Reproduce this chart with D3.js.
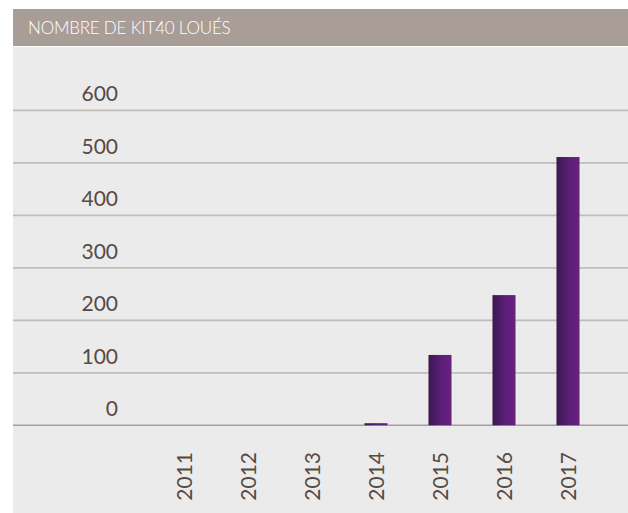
<!DOCTYPE html>
<html>
<head>
<meta charset="utf-8">
<script src="https://cdn.jsdelivr.net/npm/d3@7"></script>
<style>
  body { margin: 0; background: #fff; }
  svg text { font-family: "Lato", "Open Sans", sans-serif; }
</style>
</head>
<body>
<div id="graphique"></div>
<script>
// Données du graphique
const annees = ["2011", "2012", "2013", "2014", "2015", "2016", "2017"];
const kitsLoues = [0, 0, 0, 4, 134, 248, 511];
const graduations = [0, 100, 200, 300, 400, 500, 600];
const titre = "NOMBRE DE KIT40 LOUÉS";

const largeur = 628;
const hauteur = 513;

const svg = d3.select("#graphique")
  .append("svg")
  .attr("width", largeur)
  .attr("height", hauteur);

// Dégradé des barres (sombre à gauche, plus clair à droite)
const grad = svg.append("defs").append("linearGradient")
  .attr("id", "degradeBarre")
  .attr("x1", "0%").attr("x2", "100%");
grad.append("stop").attr("offset", "0%").attr("stop-color", "#3b1850");
grad.append("stop").attr("offset", "55%").attr("stop-color", "#5c1f78");
grad.append("stop").attr("offset", "100%").attr("stop-color", "#68217f");

// Fond du panneau
svg.append("rect")
  .attr("x", 13).attr("y", 47)
  .attr("width", largeur - 13).attr("height", hauteur - 47)
  .attr("fill", "#ebebeb");

// Bandeau de titre
svg.append("rect")
  .attr("x", 13).attr("y", 9)
  .attr("width", largeur - 13).attr("height", 37)
  .attr("fill", "#a99d98");

svg.append("text")
  .attr("x", 28).attr("y", 34)
  .attr("fill", "#fff")
  .style("font-size", "17px")
  .style("font-weight", 300)
  .style("letter-spacing", "-0.2px")
  .text(titre);

// Échelles
const x = d3.scaleBand()
  .domain(annees)
  .range([152, 600])
  .paddingInner(0.64)
  .paddingOuter(0.32);

const y = d3.scaleLinear()
  .domain([0, 600])
  .range([425.3, 110.3]);

// Lignes de grille
svg.append("g")
  .selectAll("line")
  .data(graduations)
  .join("line")
  .attr("x1", 13).attr("x2", largeur)
  .attr("y1", d => y(d)).attr("y2", d => y(d))
  .attr("stroke", d => d === 0 ? "#aaa09c" : "#c4bcb8")
  .attr("stroke-width", d => d === 0 ? 1.5 : 1.8);

// Étiquettes de l'axe vertical
svg.append("g")
  .selectAll("text")
  .data(graduations)
  .join("text")
  .attr("x", 118)
  .attr("y", d => y(d) - 9)
  .attr("text-anchor", "end")
  .attr("fill", "#554a45")
  .style("font-size", "21px")
  .text(d => d);

// Barres
svg.append("g")
  .selectAll("rect")
  .data(annees)
  .join("rect")
  .attr("x", (d, i) => x(d))
  .attr("width", x.bandwidth())
  .attr("y", (d, i) => y(kitsLoues[i]))
  .attr("height", (d, i) => y(0) - y(kitsLoues[i]))
  .attr("fill", "url(#degradeBarre)");

// Étiquettes des années (verticales)
svg.append("g")
  .selectAll("text")
  .data(annees)
  .join("text")
  .attr("transform", d => `translate(${x(d) + x.bandwidth() / 2 + 8}, 452) rotate(-90)`)
  .attr("text-anchor", "end")
  .attr("fill", "#554a45")
  .style("font-size", "21px")
  .text(d => d);
</script>
</body>
</html>
